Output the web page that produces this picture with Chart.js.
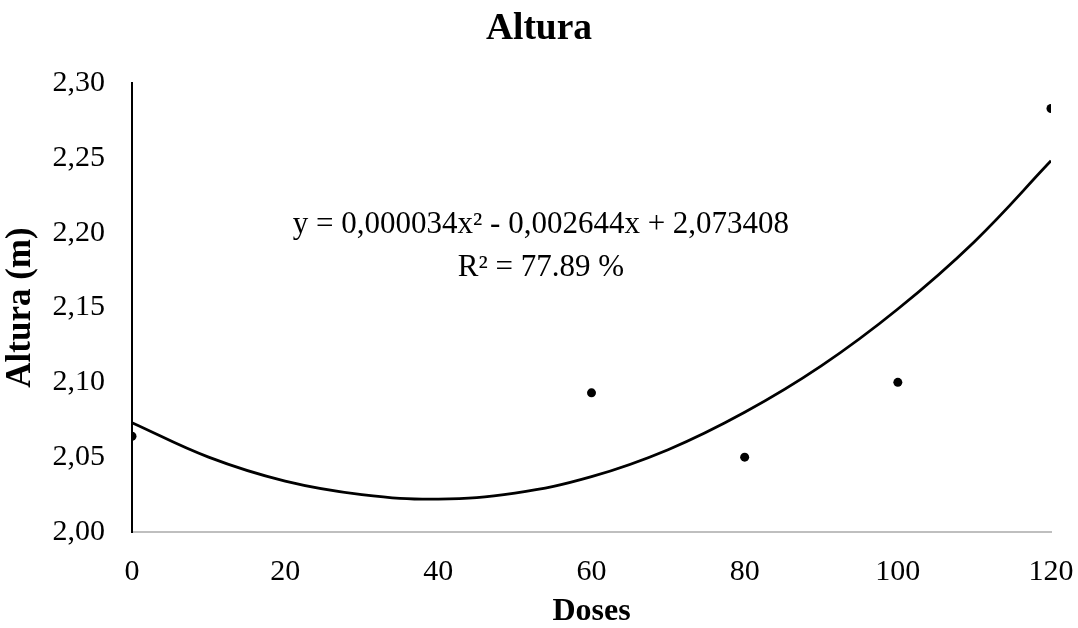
<!DOCTYPE html>
<html>
<head>
<meta charset="utf-8">
<title>Altura</title>
<script src="https://cdn.jsdelivr.net/npm/chart.js@4/dist/chart.umd.min.js"></script>
<style>
  html, body { margin: 0; padding: 0; background: #fff; }
  #wrap { width: 1078px; height: 628px; position: relative; }
</style>
</head>
<body>
<div id="wrap"><canvas id="chart"></canvas></div>
<script>
// observed means
const doses = [0, 60, 80, 100, 120];
const altura = [2.064, 2.093, 2.050, 2.100, 2.283];

// trend line every 10 units
const trendX = [0, 10, 20, 30, 40, 50, 60, 70, 80, 90, 100, 110, 120];
const trendY = [2.073, 2.050, 2.034, 2.025, 2.022, 2.026, 2.037, 2.055, 2.080, 2.111, 2.149, 2.194, 2.248];

const xTicks = [0, 20, 40, 60, 80, 100, 120];
const yTicks = [2.00, 2.05, 2.10, 2.15, 2.20, 2.25, 2.30];

const eqLines = ['y = 0,000034x\u00b2 - 0,002644x + 2,073408', 'R\u00b2 = 77.89 %'];

const serif = '"Liberation Serif", "Times New Roman", serif';

const equationText = {
  id: 'equationText',
  afterDraw(chart) {
    const { ctx, scales } = chart;
    const cx = scales.x.getPixelForValue(53.4);
    const cy = scales.y.getPixelForValue(2.205);
    ctx.save();
    ctx.fillStyle = '#000';
    ctx.font = '31px ' + serif;
    ctx.textAlign = 'center';
    ctx.textBaseline = 'middle';
    ctx.fillText(eqLines[0], cx, cy);
    ctx.fillText(eqLines[1], cx, cy + 43);
    ctx.restore();
  }
};

const ctx = document.getElementById('chart').getContext('2d');
new Chart(ctx, {
  type: 'scatter',
  data: {
    datasets: [
      {
        label: 'Tendência',
        data: trendX.map((x, i) => ({ x: x, y: trendY[i] })),
        showLine: true,
        tension: 0.4,
        borderColor: '#000',
        borderWidth: 2.8,
        pointRadius: 0,
        fill: false
      },
      {
        label: 'Altura',
        data: doses.map((x, i) => ({ x: x, y: altura[i] })),
        backgroundColor: '#000',
        borderColor: '#000',
        pointRadius: 4.5,
        pointBorderWidth: 0
      }
    ]
  },
  options: {
    responsive: true,
    maintainAspectRatio: false,
    animation: false,
    layout: { padding: 0 },
    plugins: {
      legend: { display: false },
      tooltip: { enabled: false },
      title: {
        display: true,
        text: 'Altura',
        color: '#000',
        font: { family: serif, size: 37.5, weight: 'bold', lineHeight: 1.2 },
        padding: { top: 7, bottom: 31 }
      }
    },
    scales: {
      x: {
        type: 'linear',
        min: 0,
        max: 120,
        afterFit(scale) {
          scale.height = 96;
          scale.paddingLeft = 0;
          scale.paddingRight = 27;
        },
        afterBuildTicks(scale) { scale.ticks = xTicks.map(v => ({ value: v })); },
        grid: { display: false, drawTicks: false },
        border: { display: true, color: '#bfbfbf', width: 2 },
        ticks: {
          color: '#000',
          padding: 22,
          font: { family: serif, size: 30 },
          callback: v => String(v)
        },
        title: {
          display: true,
          text: 'Doses',
          color: '#000',
          font: { family: serif, size: 32, weight: 'bold', lineHeight: 1.0 },
          padding: { top: 0, bottom: 0 }
        }
      },
      y: {
        min: 2.0,
        max: 2.3,
        afterFit(scale) { scale.width = 132; },
        afterBuildTicks(scale) { scale.ticks = yTicks.map(v => ({ value: v })); },
        grid: { display: false, drawTicks: false },
        border: { display: true, color: '#000', width: 2 },
        ticks: {
          color: '#000',
          padding: 27,
          font: { family: serif, size: 30 },
          callback: v => v.toFixed(2).replace('.', ',')
        },
        title: {
          display: true,
          text: 'Altura (m)',
          color: '#000',
          font: { family: serif, size: 35, weight: 'bold' },
          padding: { top: 0, bottom: 0 }
        }
      }
    }
  },
  plugins: [equationText]
});
</script>
</body>
</html>
